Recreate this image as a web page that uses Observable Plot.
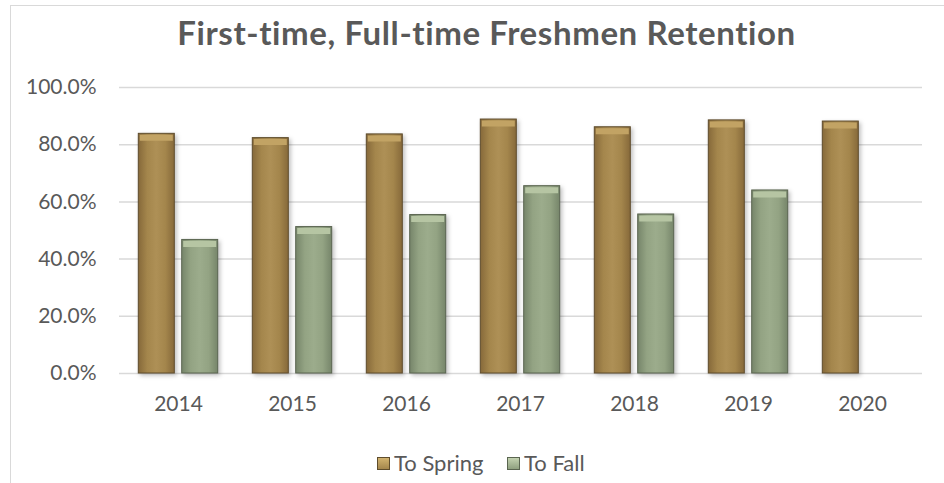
<!DOCTYPE html>
<html>
<head>
<meta charset="utf-8">
<script src="https://cdn.jsdelivr.net/npm/d3@7"></script>
<script src="https://cdn.jsdelivr.net/npm/@observablehq/plot@0.6"></script>
<style>
  html, body { margin: 0; padding: 0; background: #fff; }
  body { width: 944px; height: 483px; overflow: hidden; position: relative; font-family: Lato, "Open Sans", sans-serif; color: #595959; }
  #frame { position: absolute; left: 10px; top: 5px; width: 960px; height: 500px; border-left: 1.5px solid #d9d9d9; border-top: 1.5px solid #d9d9d9; }
  #title { position: absolute; left: 29px; width: 915px; top: 14px; line-height: 36px; text-align: center; font-size: 33px; letter-spacing: 0.6px; font-weight: 700; color: #595959; }
  #chart { position: absolute; left: 0; top: 60px; }
  #legend { position: absolute; left: 0; top: 450px; width: 944px; height: 26px; }
  .item { position: absolute; top: 0; height: 26px; line-height: 26px; font-size: 22px; color: #595959; white-space: nowrap; }
  .sw { position: absolute; top: 7px; width: 13px; height: 13px; box-sizing: border-box; }
</style>
</head>
<body>
<div id="frame"></div>
<div id="title">First-time, Full-time Freshmen Retention</div>
<div id="chart"></div>
<div id="legend"></div>
<script>
const years = ["2014", "2015", "2016", "2017", "2018", "2019", "2020"];
const toSpring = [0.838, 0.823, 0.836, 0.888, 0.861, 0.885, 0.881];
const toFall = [0.467, 0.512, 0.554, 0.655, 0.556, 0.640, null];
const yTicks = [0, 0.2, 0.4, 0.6, 0.8, 1.0];
const seriesNames = ["To Spring", "To Fall"];

const springRows = years.map((year, i) => ({year, value: toSpring[i]})).filter(d => d.value != null);
const fallRows = years.map((year, i) => ({year, value: toFall[i]})).filter(d => d.value != null);

const off = 21.7;
const plot = Plot.plot({
  width: 944,
  height: 380,
  marginLeft: 119,
  marginRight: 22,
  marginTop: 27,
  marginBottom: 67,
  style: {fontFamily: "Lato, 'Open Sans', sans-serif", fontSize: "21px", color: "#595959", background: "transparent"},
  x: {domain: years, paddingInner: 0.682, paddingOuter: 0.341, tickSize: 0, tickPadding: 23, label: null},
  y: {domain: [0, 1], ticks: yTicks, tickFormat: d3.format(".1%"), tickSize: 0, tickPadding: 23, label: null},
  marks: [
    Plot.ruleY(yTicks, {stroke: "#d9d9d9", strokeWidth: 1.5}),
    Plot.barY(springRows, {x: "year", y: "value", dx: -off, fill: "url(#gSpring)", stroke: "#5e4c2c", strokeWidth: 1}),
    Plot.tickY(springRows, {x: "year", y: "value", dx: -off, dy: 4, stroke: "#c2a364", strokeWidth: 6, insetLeft: 1.5, insetRight: 1.5}),
    Plot.barY(fallRows, {x: "year", y: "value", dx: off, fill: "url(#gFall)", stroke: "#5a6550", strokeWidth: 1}),
    Plot.tickY(fallRows, {x: "year", y: "value", dx: off, dy: 4, stroke: "#b6c5a3", strokeWidth: 6, insetLeft: 1.5, insetRight: 1.5})
  ]
});

const defs = `
<defs>
  <linearGradient id="gSpring" x1="0" x2="1" y1="0" y2="0">
    <stop offset="0" stop-color="#86693a"/>
    <stop offset="0.25" stop-color="#a4864c"/>
    <stop offset="0.5" stop-color="#ae9056"/>
    <stop offset="0.75" stop-color="#a4864c"/>
    <stop offset="1" stop-color="#86693a"/>
  </linearGradient>
  <linearGradient id="gFall" x1="0" x2="1" y1="0" y2="0">
    <stop offset="0" stop-color="#76856a"/>
    <stop offset="0.25" stop-color="#93a383"/>
    <stop offset="0.5" stop-color="#9cac8c"/>
    <stop offset="0.75" stop-color="#93a383"/>
    <stop offset="1" stop-color="#76856a"/>
  </linearGradient>
</defs>`;
plot.insertAdjacentHTML("afterbegin", defs);
plot.querySelectorAll("g[aria-label='bar']").forEach(g => {
  g.style.filter = "drop-shadow(2px 2px 2px rgba(0,0,0,0.25))";
});
document.getElementById("chart").appendChild(plot);

// Legend
const legend = document.getElementById("legend");
const legendItems = [
  {name: seriesNames[0], x: 377, bg: "linear-gradient(180deg,#d2b36f,#a4864c)", border: "#5e4c2c"},
  {name: seriesNames[1], x: 507, bg: "linear-gradient(180deg,#c3d2b0,#8fa07f)", border: "#5a6550"}
];
for (const it of legendItems) {
  const sw = document.createElement("div");
  sw.className = "sw";
  sw.style.left = it.x + "px";
  sw.style.background = it.bg;
  sw.style.border = "1px solid " + it.border;
  legend.appendChild(sw);
  const t = document.createElement("div");
  t.className = "item";
  t.style.left = (it.x + 17) + "px";
  t.textContent = it.name;
  legend.appendChild(t);
}
</script>
</body>
</html>
